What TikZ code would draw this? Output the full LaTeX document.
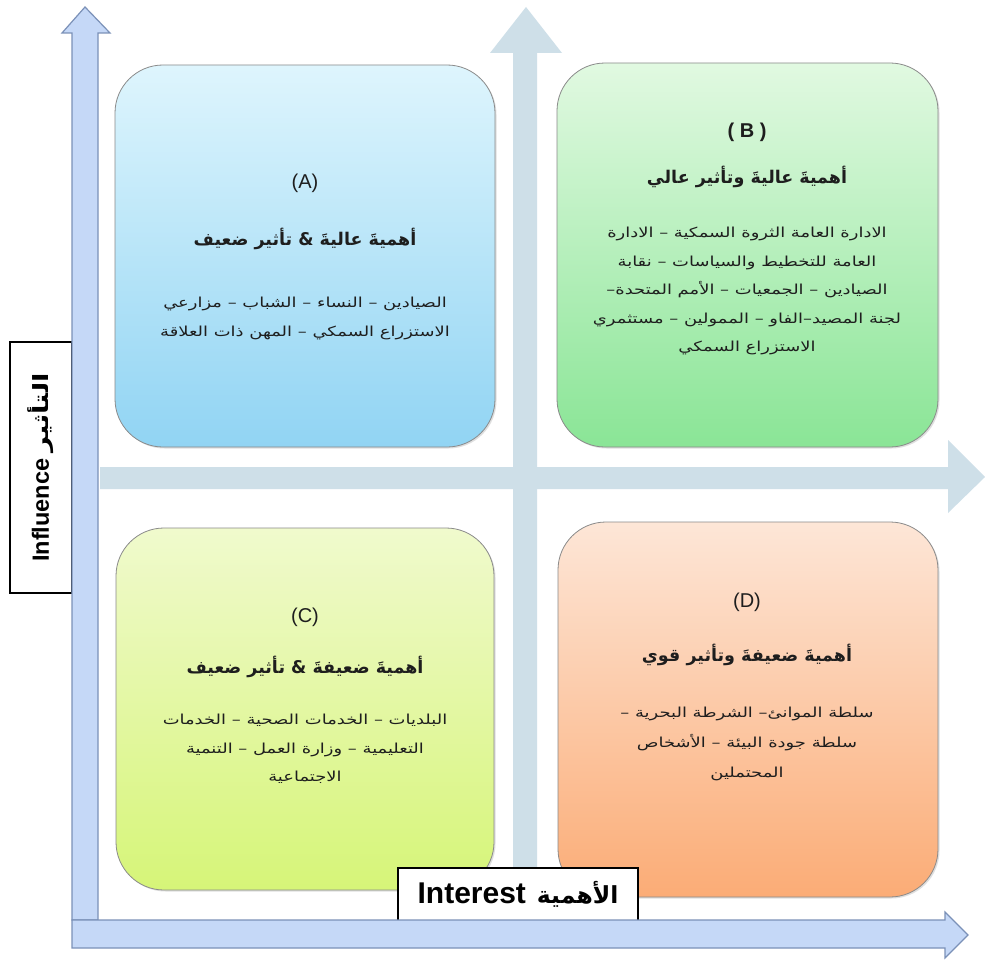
\documentclass[tikz,border=0pt]{standalone}
\usepackage{fontspec}
\setmainfont{Liberation Sans}
\newfontfamily\arabicfont[Script=Arabic]{DejaVu Sans}
\newfontfamily\arabicwide[Script=Arabic, FakeStretch=1.3]{DejaVu Sans}
\TeXXeTstate=1
\usetikzlibrary{shadows}
\newcommand{\ar}[1]{{\arabicfont\beginR #1\endR}}
\newcommand{\arw}[1]{{\arabicwide\beginR #1\endR}}
\definecolor{crossc}{HTML}{CEDFE8}
\definecolor{axisfill}{HTML}{C5D8F7}
\definecolor{axisdraw}{HTML}{7B91B8}
\definecolor{boxdraw}{HTML}{8A8A8A}
\definecolor{txt}{HTML}{1E1E1E}
\tikzset{
  quad/.style={draw=boxdraw, line width=0.8pt, rounded corners=48pt, inner sep=0pt,
    drop shadow={shadow xshift=1.5pt, shadow yshift=-1.5pt, opacity=0.25}},
  lab/.style={font=\fontsize{20}{22}\selectfont, text=txt, inner sep=1pt},
  ttl/.style={font=\bfseries\fontsize{17.5}{20}\selectfont, text=txt, inner sep=1pt},
  body/.style={font=\fontsize{13.8}{28.5}\selectfont, text=txt, align=center, inner sep=1pt},
  axislab/.style={draw=black, line width=1.6pt, fill=white, inner sep=0pt},
  axisarrow/.style={fill=axisfill, draw=axisdraw, line width=1.2pt, line join=miter},
}
\begin{document}
\begin{tikzpicture}[x=1pt,y=-1pt]
\useasboundingbox (0,0) rectangle (985,963);
\fill[white] (0,0) rectangle (985,963);
% central cross arrows
\fill[crossc] (513,886) -- (513,53) -- (490,53) -- (526,7) -- (562,53) -- (537,53) -- (537,886) -- cycle;
\fill[crossc] (100,467) -- (948,467) -- (948,440) -- (985,477) -- (948,513) -- (948,489) -- (100,489) -- cycle;
% quadrant boxes
\node[quad, top color={rgb,255:red,222;green,245;blue,253}, bottom color={rgb,255:red,145;green,212;blue,243},
  minimum width=380pt, minimum height=382pt] (A) at (305,256) {};
\node[quad, top color={rgb,255:red,225;green,249;blue,225}, bottom color={rgb,255:red,138;green,229;blue,150},
  minimum width=381pt, minimum height=384pt] (B) at (747.5,255) {};
\node[quad, top color={rgb,255:red,240;green,250;blue,205}, bottom color={rgb,255:red,214;green,245;blue,120},
  minimum width=378pt, minimum height=362pt] (C) at (305,709) {};
\node[quad, top color={rgb,255:red,253;green,230;blue,215}, bottom color={rgb,255:red,251;green,172;blue,118},
  minimum width=380pt, minimum height=375pt] (D) at (748,709.5) {};
% box A
\node[lab] (Al) at (305,183) {(A)};
\node[ttl] (At) at (305,239) {\ar{أهميةَ عاليةَ \& تأثير ضعيف}};
\node[body, anchor=north] (Ab) at (305,296) {\arw{الصيادين – النساء – الشباب – مزارعي}\\\arw{الاستزراع السمكي – المهن ذات العلاقة}};
% box B
\node[lab, font=\bfseries\fontsize{20}{22}\selectfont] (Bl) at (747,132) {( B )};
\node[ttl] (Bt) at (747,177) {\ar{أهميةَ عاليةَ وتأثير عالي}};
\node[body, anchor=north] (Bb) at (747,226) {\arw{الادارة العامة الثروة السمكية – الادارة}\\\arw{العامة للتخطيط والسياسات – نقابة}\\\arw{الصيادين – الجمعيات – الأمم المتحدة–}\\\arw{لجنة المصيد–الفاو – الممولين – مستثمري}\\\arw{الاستزراع السمكي}};
% box C
\node[lab] (Cl) at (305,617) {(C)};
\node[ttl] (Ct) at (305,667) {\ar{أهميةَ ضعيفةَ \& تأثير ضعيف}};
\node[body, anchor=north] (Cb) at (305,713) {\arw{البلديات – الخدمات الصحية – الخدمات}\\\arw{التعليمية – وزارة العمل – التنمية}\\\arw{الاجتماعية}};
% box D
\node[lab] (Dl) at (747,602) {(D)};
\node[ttl] (Dt) at (747,655) {\ar{أهميةَ ضعيفةَ وتأثير قوي}};
\node[body, anchor=north, font=\fontsize{13.8}{30}\selectfont] (Db) at (747,706) {\arw{سلطة الموانئ– الشرطة البحرية –}\\\arw{سلطة جودة البيئة – الأشخاص}\\\arw{المحتملين}};
% axis labels
\node[axislab, minimum width=251pt, minimum height=62pt, rotate=90,
  font=\bfseries\fontsize{23.5}{26}\selectfont] (infl) at (41,467.5) {Influence\hspace{6pt}{\fontsize{21}{24}\selectfont\arw{التأثير}}};
\node[axislab, minimum width=240pt, minimum height=53pt,
  font=\bfseries\fontsize{30}{32}\selectfont] (intr) at (518,894.5) {Interest\hspace{11pt}{\fontsize{23.5}{26}\selectfont\ar{الأهمية}}};
% main axes
\path[axisarrow] (72,920) -- (72,33) -- (62,33) -- (85,7) -- (110,33) -- (98,33) -- (98,920) -- cycle;
\path[axisarrow] (72,920) -- (945,920) -- (945,912) -- (968,935) -- (945,958) -- (945,948) -- (72,948) -- cycle;
\end{tikzpicture}
\end{document}
